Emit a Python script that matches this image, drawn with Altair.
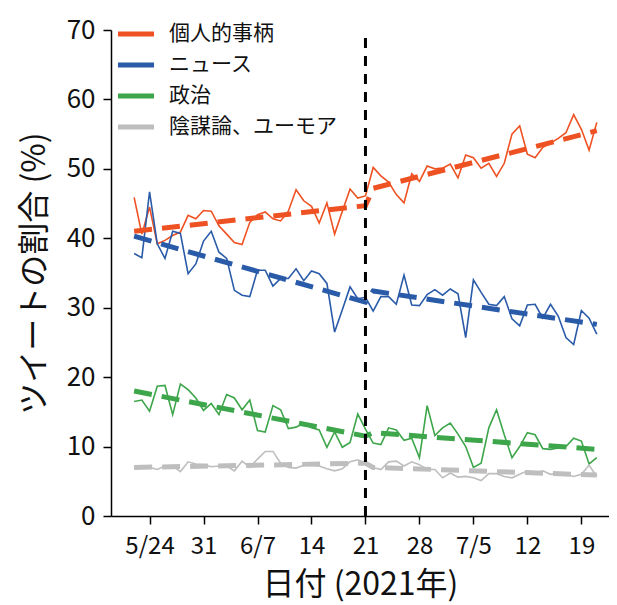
import altair as alt
import pandas as pd

start_date = "2021-05-22"
n_days = 61

personal = [45.9, 40.6, 44.5, 39.2, 39.7, 40.4, 40.9, 43.3, 42.8, 44.0,
            43.9, 41.8, 40.6, 39.4, 39.1, 42.3, 43.4, 43.8, 42.8, 42.5,
            43.9, 47.0, 45.4, 44.6, 42.2, 45.1, 40.6, 43.9, 47.1, 45.8,
            46.1, 50.2, 49.0, 48.1, 46.3, 45.1, 49.3, 48.2, 50.4, 50.0,
            50.1, 50.7, 48.7, 52.0, 51.6, 50.1, 50.8, 48.9, 50.8, 55.0,
            56.2, 52.1, 51.6, 53.1, 53.7, 54.4, 55.2, 57.8, 55.7, 52.7,
            56.7]
news = [37.8, 37.2, 46.7, 39.2, 37.1, 41.0, 40.7, 34.9, 36.3, 39.6,
        41.0, 38.0, 37.1, 32.5, 31.8, 31.6, 35.4, 35.4, 33.1, 34.2,
        34.2, 35.6, 33.9, 35.3, 34.9, 33.5, 26.5, 29.7, 33.0, 31.3,
        31.5, 29.5, 31.6, 31.6, 30.5, 34.7, 30.4, 30.3, 31.9, 32.6,
        31.8, 32.7, 32.0, 25.7, 34.0, 32.2, 30.5, 30.3, 31.6, 28.4,
        27.4, 30.4, 30.5, 28.5, 30.5, 28.8, 25.7, 24.7, 29.6, 28.5,
        26.2]
politics = [16.5, 16.7, 15.1, 18.7, 18.8, 14.6, 19.0, 18.2, 17.0, 15.2,
            16.2, 14.6, 17.5, 17.0, 15.3, 16.7, 12.3, 12.1, 15.9, 15.3,
            12.6, 12.8, 13.4, 12.7, 12.4, 9.9, 12.1, 9.9, 10.6, 14.7,
            12.5, 10.5, 10.3, 12.7, 12.4, 10.9, 11.2, 8.4, 15.9, 11.6,
            12.7, 13.4, 11.8, 10.0, 7.0, 7.6, 12.7, 15.3, 11.7, 8.4,
            10.0, 12.0, 11.7, 9.7, 9.6, 9.8, 10.0, 11.2, 10.8, 7.5,
            8.4]
conspiracy = [6.9, 7.2, 7.0, 6.7, 7.2, 7.2, 6.4, 7.8, 7.5, 7.4,
              7.1, 7.2, 7.2, 6.5, 7.9, 7.0, 8.2, 9.3, 9.3, 7.6,
              7.0, 6.9, 7.3, 7.3, 7.2, 6.8, 6.5, 6.8, 7.8, 8.1,
              7.6, 7.0, 6.7, 7.8, 7.9, 7.2, 7.8, 7.4, 6.7, 6.7,
              5.5, 6.2, 5.6, 5.7, 5.5, 5.1, 6.1, 6.1, 5.7, 5.5,
              6.0, 6.5, 6.2, 6.5, 6.0, 6.1, 6.0, 5.7, 6.0, 7.3,
              5.7]

series_names = ["個人的事柄", "ニュース", "政治", "陰謀論、ユーモア"]
series_colors = ["#EE5122", "#2A5BA8", "#3DA54A", "#BEBEBE"]

# trend lines: fitted values read at day indices (break at 6/21)
trend_days = [0, 30, 31, 60]
trend_personal = [41.0, 44.7, 47.2, 55.5]
trend_news = [40.3, 30.8, 32.4, 27.6]
trend_politics = [18.0, 11.5, 12.0, 9.6]
trend_conspiracy = [7.0, 7.6, 7.0, 5.9]

tick_dates = ["2021-05-24", "2021-05-31", "2021-06-07", "2021-06-14",
              "2021-06-21", "2021-06-28", "2021-07-05", "2021-07-12",
              "2021-07-19"]
event_date = "2021-06-21"
x_domain = ["2021-05-19T00:00:00", "2021-07-22T14:00:00"]
y_ticks = [0, 10, 20, 30, 40, 50, 60, 70]

dates = pd.date_range(start_date, periods=n_days, freq="D")
all_series = [personal, news, politics, conspiracy]
all_trends = [trend_personal, trend_news, trend_politics, trend_conspiracy]

rows = []
for name, vals in zip(series_names, all_series):
    for d, v in zip(dates, vals):
        rows.append({"date": d.strftime("%Y-%m-%dT%H:%M:%S"), "value": v, "series": name})
df = pd.DataFrame(rows)

trows = []
for name, vals in zip(series_names, all_trends):
    for i, v in zip(trend_days, vals):
        trows.append({"date": dates[i].strftime("%Y-%m-%dT%H:%M:%S"), "value": v, "series": name})
tdf = pd.DataFrame(trows)

vdf = pd.DataFrame({"date": [event_date + "T00:00:00"], "y0": [0], "y1": [70]})

FONT = "Noto Sans CJK JP"

def to_dt(s):
    y, m, d = [int(p) for p in s[:10].split("-")]
    hh = int(s[11:13]) if len(s) > 10 else 0
    return alt.DateTime(year=y, month=m, date=d, hours=hh)

x_scale = alt.Scale(domain=[to_dt(x_domain[0]), to_dt(x_domain[1])])
y_scale = alt.Scale(domain=[0, 70], nice=False)

x_axis = alt.Axis(
    values=[to_dt(t) for t in tick_dates],
    labelExpr="(date(datum.value) <= 7 || datum.index == 0) ? (month(datum.value) + 1) + '/' + date(datum.value) : '' + date(datum.value)",
    title="日付 (2021年)", grid=False, tickSize=8, labelPadding=10,
    labelFontSize=24, titleFontSize=32, titlePadding=11,
)
y_axis = alt.Axis(
    values=y_ticks, title="ツイートの割合 (%)", grid=False, tickSize=8,
    labelPadding=8, labelFontSize=26, titleFontSize=32, titlePadding=15,
)

color_scale = alt.Scale(domain=series_names, range=series_colors)

lines = alt.Chart(df).mark_line(strokeWidth=1.6).encode(
    x=alt.X("date:T", scale=x_scale, axis=x_axis),
    y=alt.Y("value:Q", scale=y_scale, axis=y_axis),
    color=alt.Color("series:N", scale=color_scale, sort=series_names,
                    legend=alt.Legend(title=None, orient="none", legendX=4, legendY=-17,
                                      symbolType="stroke", symbolStrokeWidth=5,
                                      symbolSize=1300, labelFontSize=21, labelLimit=400,
                                      labelOffset=12, rowPadding=0, padding=0)),
    detail="series:N",
)

trends = alt.Chart(tdf).mark_line(strokeWidth=5, strokeDash=[18, 10]).encode(
    x="date:T",
    y="value:Q",
    color=alt.Color("series:N", scale=color_scale, legend=None),
    detail="series:N",
)

vline = alt.Chart(vdf).mark_rule(color="black", strokeWidth=3, strokeDash=[10, 8]).encode(
    x="date:T", y="y0:Q", y2="y1:Q",
)

chart = alt.layer(lines, trends, vline).properties(
    width=498, height=486,
    autosize=alt.AutoSizeParams(type="none"),
    padding={"left": 103, "top": 22, "right": 0, "bottom": 86},
).configure_view(stroke=None).configure_axis(
    domainColor="black", tickColor="black", domainWidth=1.5, tickWidth=1.5,
    labelColor="#111", titleColor="#111", labelFont=FONT, titleFont=FONT,
    titleFontWeight="normal",
).configure_legend(labelFont=FONT, labelColor="#111")

chart.save("out.html", embed_options={"renderer": "svg", "actions": False})
